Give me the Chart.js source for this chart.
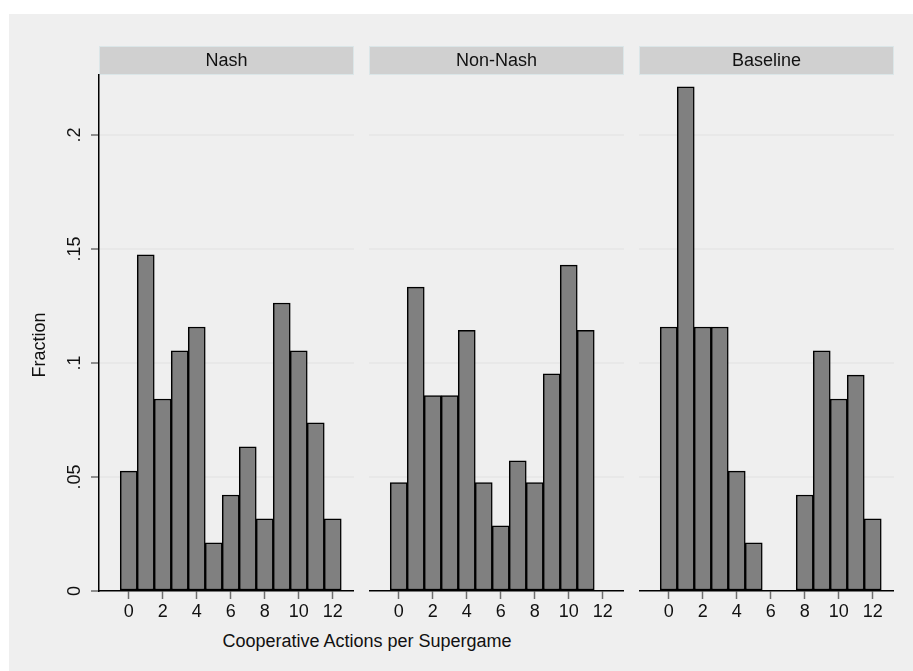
<!DOCTYPE html>
<html>
<head>
<meta charset="utf-8">
<script src="https://cdn.jsdelivr.net/npm/chart.js@4.4.1/dist/chart.umd.min.js"></script>
<style>
    body { margin: 0; width: 913px; height: 671px; overflow: hidden; position: relative; background: #fff;
        font-family: "Liberation Sans", Arial, sans-serif; }
    #bg { position: absolute; left: 9px; top: 14px; right: 0; bottom: 0; background: #efefef; }
    canvas { position: absolute; top: 46px; }
    #xtitle { position: absolute; left: 167px; width: 400px; top: 631px; text-align: center; font-size: 18px; color: #111; }
</style>
</head>
<body>
<div id="bg"></div>
<canvas id="c0" width="354" height="584" style="left:0px"></canvas>
<canvas id="c1" width="255" height="584" style="left:369px"></canvas>
<canvas id="c2" width="255" height="584" style="left:639px"></canvas>
<div id="xtitle">Cooperative Actions per Supergame</div>
<script>
// bins are the number of cooperative actions, values are fractions
const bins = [0, 1, 2, 3, 4, 5, 6, 7, 8, 9, 10, 11, 12];
const panelNames = ['Nash', 'Non-Nash', 'Baseline'];
const nashFrac = [0.0526, 0.1474, 0.0842, 0.1053, 0.1158, 0.0211, 0.0421, 0.0632, 0.0316, 0.1263, 0.1053, 0.0737, 0.0316];
const nonNashFrac = [0.0476, 0.1333, 0.0857, 0.0857, 0.1143, 0.0476, 0.0286, 0.0571, 0.0476, 0.0952, 0.1429, 0.1143, 0];
const baselineFrac = [0.1158, 0.2211, 0.1158, 0.1158, 0.0526, 0.0211, 0, 0, 0.0421, 0.1053, 0.0842, 0.0947, 0.0316];
const xTicks = [0, 2, 4, 6, 8, 10, 12];
const yTicks = [0, 0.05, 0.1, 0.15, 0.2];
const yTickLabels = ['0', '.05', '.1', '.15', '.2'];
const yTitle = 'Fraction';

const FONT = '"Liberation Sans", Arial, sans-serif';

// grey strip with the panel name above the plot area
const headerPlugin = {
    id: 'header',
    beforeDraw(chart, args, opts) {
        const ctx = chart.ctx;
        const a = chart.chartArea;
        ctx.save();
        ctx.fillStyle = '#d0d0d0';
        ctx.fillRect(a.left, 0, a.right - a.left, a.top);
        ctx.strokeStyle = '#dbe6e8';
        ctx.lineWidth = 1;
        ctx.strokeRect(a.left + 0.5, 0.5, a.right - a.left - 1, a.top - 1);
        ctx.fillStyle = '#111';
        ctx.font = '18px ' + FONT;
        ctx.textAlign = 'center';
        ctx.textBaseline = 'middle';
        ctx.fillText(opts.text, (a.left + a.right) / 2, a.top / 2 + 1);
        ctx.restore();
    }
};

// Stata style vertical tick labels and title on the y axis
const yLabelPlugin = {
    id: 'ylabels',
    afterDraw(chart, args, opts) {
        if (!opts.show) return;
        const ctx = chart.ctx;
        const y = chart.scales.y;
        ctx.save();
        ctx.fillStyle = '#111';
        ctx.font = '18px ' + FONT;
        ctx.textAlign = 'center';
        ctx.textBaseline = 'middle';
        yTicks.forEach((v, i) => {
            ctx.save();
            ctx.translate(75, y.getPixelForValue(v));
            ctx.rotate(-Math.PI / 2);
            ctx.fillText(yTickLabels[i], 0, 0);
            ctx.restore();
        });
        ctx.translate(40, 345 - 46);
        ctx.rotate(-Math.PI / 2);
        ctx.fillText(yTitle, 0, 0);
        ctx.restore();
    }
};

const makeChart = (id, name, values, first) => {
    const ctx = document.getElementById(id).getContext('2d');
    return new Chart(ctx, {
        type: 'bar',
        data: {
            datasets: [{
                data: bins.map((b, i) => ({x: b, y: values[i]})),
                backgroundColor: '#808080',
                borderColor: '#000',
                borderWidth: 1.5,
                borderSkipped: false,
                barPercentage: 1,
                categoryPercentage: 1
            }]
        },
        options: {
            responsive: false,
            animation: false,
            layout: {padding: {top: 29, left: 0, right: 0, bottom: 0}},
            plugins: {
                legend: {display: false},
                tooltip: {enabled: false},
                header: {text: name},
                ylabels: {show: first}
            },
            scales: {
                x: {
                    type: 'linear',
                    offset: false,
                    min: -1.75,
                    max: 13.25,
                    afterBuildTicks: (s) => { s.ticks = xTicks.map(v => ({value: v})); },
                    afterFit: (s) => { s.height = 39; },
                    grid: {display: true, offset: false, drawOnChartArea: false, drawTicks: true, tickLength: 8, tickColor: '#6e6e6e', tickWidth: 1.5},
                    border: {display: true, color: '#000', width: 1.5},
                    ticks: {color: '#111', font: {family: FONT, size: 18}, padding: 2, maxRotation: 0, autoSkip: false}
                },
                y: {
                    min: 0,
                    max: 0.2263,
                    afterBuildTicks: (s) => { s.ticks = yTicks.map(v => ({value: v})); },
                    afterFit: (s) => { s.width = first ? 99 : 0; },
                    grid: {color: (c) => c.tick.value === 0 ? 'rgba(0,0,0,0)' : '#e8e8e8', lineWidth: 2,
                        drawTicks: first, tickLength: 8, tickColor: '#6e6e6e', tickWidth: 1.5},
                    border: {display: first, color: '#000', width: 1.5},
                    ticks: {display: false}
                }
            }
        },
        plugins: [headerPlugin, yLabelPlugin]
    });
}

makeChart('c0', panelNames[0], nashFrac, true);
makeChart('c1', panelNames[1], nonNashFrac, false);
makeChart('c2', panelNames[2], baselineFrac, false);
</script>
</body>
</html>
